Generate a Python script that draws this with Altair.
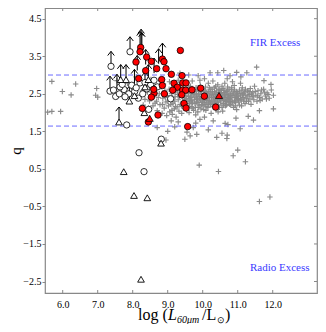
import altair as alt
import pandas as pd

# ---------------- data ----------------
gray_core = [
    (8.42,2.55),(8.48,2.31),(8.55,2.72),(8.58,2.18),(8.62,2.44),(8.66,2.62),(8.70,2.05),(8.52,2.88),(8.68,2.30),(8.45,2.12),
    (8.76,2.50),(8.78,2.21),(8.81,2.68),(8.84,1.98),(8.86,2.38),(8.90,2.12),(8.92,2.58),(8.95,2.28),(8.97,1.92),(8.99,2.45),(8.80,2.85),(8.88,2.76),
    (9.02,2.18),(9.04,2.62),(9.06,2.02),(9.08,2.36),(9.11,2.50),(9.13,1.95),(9.15,2.25),(9.17,2.70),(9.19,2.10),(9.21,2.42),(9.23,2.56),(9.24,1.88),(9.05,2.82),(9.20,2.30),
    (9.27,2.15),(9.28,2.48),(9.30,2.34),(9.32,2.04),(9.34,2.64),(9.36,2.22),(9.38,2.54),(9.40,1.98),(9.42,2.40),(9.44,2.28),(9.46,2.74),(9.48,2.12),(9.30,2.86),(9.45,2.58),(9.49,2.35),
    (9.51,2.20),(9.52,2.46),(9.54,2.08),(9.56,2.62),(9.58,2.30),(9.60,2.52),(9.61,2.00),(9.63,2.38),(9.65,2.70),(9.67,2.16),(9.69,2.44),(9.71,2.26),(9.72,2.60),(9.74,2.06),(9.55,2.80),(9.70,2.84),(9.62,2.24),(9.66,2.50),
    (9.76,2.34),(9.77,2.52),(9.79,2.14),(9.81,2.66),(9.83,2.28),(9.84,2.44),(9.86,2.02),(9.88,2.58),(9.90,2.20),(9.91,2.38),(9.93,2.72),(9.95,2.10),(9.96,2.48),(9.98,2.30),(9.99,2.62),(9.80,1.94),(9.92,2.86),(9.85,2.36),
    (10.01,2.18),(10.02,2.42),(10.04,2.56),(10.06,2.26),(10.08,2.68),(10.09,2.06),(10.11,2.36),(10.13,2.50),(10.15,2.14),(10.16,2.78),(10.18,2.32),(10.20,2.46),(10.22,2.22),(10.23,2.62),(10.24,1.98),(10.05,2.90),(10.12,2.28),(10.19,2.40),
    (10.26,2.30),(10.28,2.52),(10.30,2.16),(10.31,2.40),(10.33,2.66),(10.35,2.24),(10.37,2.48),(10.38,2.08),(10.40,2.58),(10.42,2.34),(10.43,2.74),(10.45,2.20),(10.47,2.44),(10.49,2.62),(10.29,2.84),(10.44,2.02),(10.36,2.36),
    (10.51,2.28),(10.53,2.50),(10.55,2.14),(10.56,2.38),(10.58,2.64),(10.60,2.24),(10.62,2.46),(10.63,2.78),(10.65,2.18),(10.67,2.56),(10.69,2.34),(10.71,2.68),(10.73,2.26),(10.74,2.44),(10.57,2.04),(10.70,2.90),
    (10.76,2.36),(10.78,2.52),(10.80,2.20),(10.82,2.62),(10.84,2.30),(10.86,2.46),(10.88,2.14),(10.90,2.72),(10.92,2.40),(10.94,2.26),(10.96,2.56),(10.98,2.34),(10.85,2.82),(10.97,2.08),
    (11.01,2.44),(11.03,2.28),(11.05,2.60),(11.07,2.36),(11.09,2.50),(11.11,2.18),(11.13,2.66),(11.15,2.40),(11.17,2.30),(11.19,2.54),(11.21,2.24),(11.23,2.46),(11.08,2.78),
    (11.26,2.38),(11.28,2.58),(11.31,2.30),(11.33,2.48),(11.36,2.64),(11.38,2.22),(11.41,2.42),(11.43,2.54),(11.46,2.34),(11.48,2.70),
    (11.52,2.46),(11.55,2.30),(11.58,2.58),(11.62,2.40),(11.66,2.50),(11.70,2.36),(11.74,2.62),(11.79,2.44),(11.84,2.52),(11.90,2.38),(11.96,2.60),(12.02,2.46),
]
gray_dense = [
    (9.64,2.33),(9.73,2.49),(9.78,2.41),(9.87,2.27),(9.94,2.55),(10.00,2.35),(10.03,2.47),(10.07,2.21),(10.10,2.53),(10.14,2.39),
    (10.17,2.25),(10.21,2.55),(10.25,2.41),(10.27,2.21),(10.32,2.49),(10.34,2.31),(10.39,2.43),(10.41,2.27),(10.46,2.53),(10.48,2.37),
    (10.52,2.41),(10.54,2.59),(10.59,2.33),(10.61,2.53),(10.64,2.41),(10.66,2.29),(10.72,2.49),(10.75,2.37),(10.79,2.29),(10.83,2.45),
    (10.87,2.55),(10.91,2.31),(10.95,2.47),(11.00,2.37),(11.04,2.51),(11.10,2.33),(11.14,2.47),(9.53,2.37),(9.59,2.43),(9.68,2.31),
    (9.82,2.49),(9.89,2.43),(9.97,2.21),
    (9.26,2.60),(9.33,2.42),(9.39,2.18),(9.43,2.50),(9.47,2.26),(9.57,2.14),(9.57,2.56),(9.61,2.66),(9.66,2.40),(9.70,2.12),
    (9.75,2.56),(9.78,2.24),(9.82,2.36),(9.84,2.62),(9.87,2.14),(9.89,2.50),(9.94,2.34),(9.97,2.64),(10.00,2.26),(10.03,2.08),
    (10.04,2.32),(10.07,2.60),(10.10,2.42),(10.12,2.16),(10.16,2.56),(10.19,2.66),(10.21,2.30),(10.24,2.48),(10.27,2.62),(10.29,2.40),
    (10.32,2.26),(10.34,2.56),(10.37,2.70),(10.39,2.18),(10.41,2.46),(10.44,2.30),(10.46,2.62),(10.48,2.14),(10.50,2.52),(10.52,2.34),
    (10.55,2.70),(10.57,2.44),(10.59,2.20),(10.61,2.60),(10.64,2.32),(10.66,2.48),(10.68,2.20),(10.70,2.58),(10.72,2.40),(10.75,2.62),
    (10.77,2.22),(10.79,2.46),(10.81,2.36),(10.83,2.66),(10.86,2.26),(10.89,2.50),(10.91,2.60),(10.93,2.18),(10.96,2.42),(10.99,2.52),
    (11.02,2.34),(11.05,2.20),(11.08,2.44),(11.12,2.58),(11.16,2.50),(11.18,2.36),(11.22,2.62),(11.25,2.30),(11.29,2.44),(11.32,2.56),
    (11.35,2.36),(11.39,2.50),(11.44,2.44),(11.50,2.56),(11.57,2.44),(11.64,2.32),(11.68,2.60),(11.77,2.54),(11.82,2.36),(11.87,2.48),
    (9.00,2.30),(9.09,2.22),(9.14,2.40),(9.18,2.58),(9.22,2.16),(8.93,2.40),(8.85,2.22),(8.73,2.40),(8.64,2.25),(9.12,2.06),
]
gray_left = [
    (7.55,2.85),(7.70,2.62),(7.85,2.78),(7.95,2.50),(8.05,2.66),(8.12,2.40),(8.20,2.80),(8.28,2.58),(8.35,2.35),(8.38,2.72),
    (8.10,2.95),(7.80,2.40),(8.30,2.20),
    (5.69,2.83),(5.99,2.56),(6.24,2.47),(6.37,2.76),(6.97,2.64),(6.94,2.46),(7.00,2.41),(5.57,2.01),(5.69,2.03),(5.94,2.03),
]
gray_fringe = [
    (9.87,2.98),(10.21,3.06),(10.43,3.06),(10.78,2.98),(10.97,3.07),(11.09,2.95),(11.26,3.06),(11.54,3.21),(9.60,3.00),(10.60,3.12),
    (11.75,2.85),(11.95,2.75),(9.35,3.05),
    (9.92,1.82),(9.73,1.60),(10.16,1.54),(10.64,1.71),(10.72,1.68),(11.07,1.57),(10.70,1.40),(10.55,1.45),(10.40,1.34),(9.83,1.42),
    (11.45,1.80),(12.02,2.10),(9.00,1.50),(9.49,1.29),(9.64,1.38),(9.55,1.48),(8.95,1.27),(10.69,1.31),(10.87,0.85),(11.00,1.00),
    (9.30,1.75),(9.20,1.62),(10.30,1.78),(11.30,1.90),(9.80,1.72),(10.05,1.88),(10.95,1.85),(11.62,2.05),(8.70,1.60),(9.10,1.78),
]
gray_far = [(9.90,0.60),(10.45,0.43),(11.22,0.69),(11.62,-0.37),(11.92,-0.25)]

red_circle_x = [8.228,8.209,9.361,8.094,8.399,8.532,8.847,8.894,8.370,8.685,8.951,8.170,9.104,9.409,8.828,9.180,9.428,9.523,8.847,
                9.275,8.609,8.532,8.904,9.142,9.428,9.513,9.694,9.942,9.399,10.047,9.466,9.523,10.370,8.275,8.723,8.447,9.571,8.60]
red_circle_q = [3.734,3.619,3.654,3.346,3.478,3.363,3.425,3.354,3.116,3.169,3.169,2.905,3.019,2.984,2.878,2.781,2.790,2.790,2.720,
                2.675,2.517,2.411,2.499,2.596,2.596,2.596,2.605,2.649,2.473,2.437,2.243,2.120,2.146,2.111,1.935,1.749,1.626,2.62]
red_tri_x = [8.485, 10.466]
red_tri_q = [1.847, 2.455]

white_circle_x = [7.923,7.380,7.351,7.513,7.618,7.751,7.885,7.780,8.056,8.161,8.285,8.399,8.209,8.513,8.609,8.704,7.971,9.084,
                  7.828,8.457,8.817,8.18,8.323,7.637,7.45,8.10,8.35,7.70]
white_circle_q = [3.619,3.231,2.570,2.429,2.499,2.614,2.499,2.420,2.561,2.384,2.499,2.631,2.790,2.746,2.860,2.684,2.728,2.367,
                  1.670,2.085,1.291,0.93,0.426,2.684,2.60,2.66,2.80,2.75]
white_tri_x = [7.656,7.809,7.904,8.351,8.447,8.332,7.609,8.809,7.743,8.037,8.417,8.237,8.05]
white_tri_q = [2.878,2.878,2.305,2.684,2.878,1.997,1.749,1.185,0.426,-0.209,-0.27,-2.44,2.45]

arrow_x = [7.923,7.380,7.351,7.55,7.656,7.809,7.904,8.209,8.24,8.262,8.37,8.74,8.85,8.13,8.61,8.05,7.609,8.351,8.447]
arrow_q = [3.619,3.231,2.570,2.62,2.878,2.878,2.305,3.76,3.82,3.73,3.28,3.30,3.45,3.12,3.05,2.75,1.749,2.684,2.878]

limit_q = [3.0, 1.64]
region_labels = ["FIR Excess", "Radio Excess"]
region_x = [11.35, 11.35]
region_q = [3.865, -2.148]

x_ticks = [6.0, 7.0, 8.0, 9.0, 10.0, 11.0, 12.0]
y_ticks = [4.5, 3.5, 2.5, 1.5, 0.5, -0.5, -1.5, -2.5]

# ---------------- chart ----------------
W, H = 272, 285
FONT = "Liberation Serif"
XS = alt.Scale(domain=[5.494, 13.265], nice=False, zero=False)
YS = alt.Scale(domain=[-2.806, 4.785], nice=False, zero=False)

def pts(lst):
    return pd.DataFrame({"x": [p[0] for p in lst], "q": [p[1] for p in lst]})

gray_df = pts(gray_core + gray_dense + gray_left + gray_fringe + gray_far)

xa = alt.Axis(values=x_ticks, format=".1f", labelFont=FONT, labelFontSize=10, labelColor="black",
              ticks=False, domain=False, grid=False, labelPadding=6, title=None)
ya = alt.Axis(values=y_ticks, format=".1f", labelFont=FONT, labelFontSize=10, labelColor="black",
              tickSize=3, tickColor="#888888", domain=False, grid=False, labelPadding=1, title=None)

def X(f="x:Q"):
    return alt.X(f, scale=XS, axis=xa)

def Y(f="q:Q"):
    return alt.Y(f, scale=YS, axis=ya)

gray = alt.Chart(gray_df).mark_point(
    shape="M-1,0L1,0M0,-1L0,1", filled=False, color="#8a8a8a", strokeWidth=1.15, size=30, opacity=1
).encode(x=X(), y=Y())

lines = alt.Chart(pd.DataFrame({"q": limit_q})).mark_rule(
    color="#6a6aff", strokeDash=[5, 3], strokeWidth=1
).encode(y=Y())

arrows = alt.Chart(pd.DataFrame({"x": arrow_x, "q": arrow_q})).mark_point(
    shape="M0,0L0,-1M-0.22,-0.72L0,-1L0.22,-0.72", filled=False, color="black", strokeWidth=1, size=900, opacity=1
).encode(x=X(), y=Y())

white_c = alt.Chart(pd.DataFrame({"x": white_circle_x, "q": white_circle_q})).mark_point(
    shape="circle", filled=True, fill="white", stroke="black", strokeWidth=0.8, size=40, opacity=1
).encode(x=X(), y=Y())

white_t = alt.Chart(pd.DataFrame({"x": white_tri_x, "q": white_tri_q})).mark_point(
    shape="triangle-up", filled=True, fill="white", stroke="black", strokeWidth=0.9, size=45, opacity=1
).encode(x=X(), y=Y())

red_c = alt.Chart(pd.DataFrame({"x": red_circle_x, "q": red_circle_q})).mark_point(
    shape="circle", filled=True, fill="#ff0000", stroke="black", strokeWidth=0.8, size=42, opacity=1
).encode(x=X(), y=Y())

red_t = alt.Chart(pd.DataFrame({"x": red_tri_x, "q": red_tri_q})).mark_point(
    shape="triangle-up", filled=True, fill="#ff0000", stroke="black", strokeWidth=0.8, size=50, opacity=1
).encode(x=X(), y=Y())

region_txt = alt.Chart(pd.DataFrame({"t": region_labels, "x": region_x, "q": region_q})).mark_text(
    font=FONT, fontSize=11, color="#3a3aff", align="left", baseline="middle"
).encode(x=X(), y=Y(), text="t:N")

# inward tick marks on bottom, top and right edges
xt_df = pd.DataFrame({"v": x_ticks})
yt_df = pd.DataFrame({"v": y_ticks})
tick_bottom = alt.Chart(xt_df).mark_rule(color="#888888", strokeWidth=1).encode(
    x=X("v:Q"), y=alt.value(H), y2=alt.value(H - 3))
tick_top = alt.Chart(xt_df).mark_rule(color="#888888", strokeWidth=1).encode(
    x=X("v:Q"), y=alt.value(0), y2=alt.value(3))
tick_right = alt.Chart(yt_df).mark_rule(color="#888888", strokeWidth=1).encode(
    y=Y("v:Q"), x=alt.value(W), x2=alt.value(W - 3))

def txt(s, x, y, size=16, style="normal", angle=0, align="left", baseline="alphabetic"):
    return alt.Chart(pd.DataFrame({"t": [s]})).mark_text(
        font=FONT, fontSize=size, fontStyle=style, color="black", align=align, baseline=baseline, angle=angle
    ).encode(text="t:N", x=alt.value(x), y=alt.value(y))

title_parts = [
    txt("log (", 93, 312),
    txt("L", 123, 312, style="italic"),
    txt("60μm", 132, 315, size=10, style="italic"),
    txt("/L", 157, 312),
    txt("⊙", 171.5, 315, size=9),
    txt(")", 180, 312),
    txt("q", -29, 143, size=15, angle=270, align="center", baseline="middle"),
]

chart = alt.layer(
    gray, lines, arrows, white_c, white_t, red_c, red_t, region_txt,
    tick_bottom, tick_top, tick_right, *title_parts
).properties(
    width=W, height=H,
    autosize=alt.AutoSizeParams(type="none"),
    padding={"left": 37, "top": 0, "right": 1, "bottom": 31},
).configure_view(stroke="#888888", strokeWidth=1.2)

chart.save("out.html", embed_options={"renderer": "svg", "actions": False})
